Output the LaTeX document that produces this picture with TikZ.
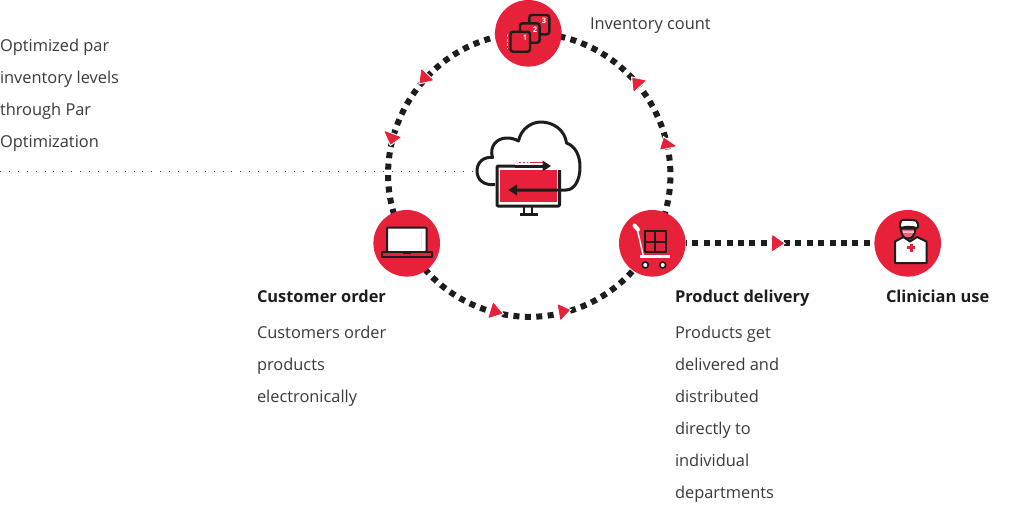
\documentclass[tikz,border=0pt]{standalone}
\usepackage{fontspec}
\setmainfont{Open Sans}
\usetikzlibrary{backgrounds}
\definecolor{brand}{HTML}{E8213A}
\definecolor{ink}{HTML}{1E1C1D}
\definecolor{txt}{HTML}{3A3A3A}
\tikzset{
  x=1pt,y=-1pt,
  hub/.style={circle,fill=brand,minimum size=66.6pt,inner sep=0pt,outer sep=0pt},
  ringline/.style={draw=ink,line width=6pt,dash pattern=on 6pt off 5.43pt},
  tri/.style={fill=brand,draw=brand,line width=0.8pt,line join=round,preaction={draw=white,line width=3pt}},
  label/.style={inner sep=0pt,outer sep=0pt,anchor=north west,align=left,text=txt,font=\fontsize{16.4}{32}\selectfont},
  title/.style={inner sep=0pt,outer sep=0pt,anchor=north west,align=left,text=ink,font=\fontsize{16.4}{32}\selectfont\bfseries},
  icon/.style={draw=ink,line width=3pt,line join=round},
  thin/.style={draw=ink,line width=2pt,line join=round}
}
\begin{document}
\begin{tikzpicture}
\useasboundingbox (0,0) rectangle (1024,517);
\node[hub] (top) at (528.3,33.3) {};
\node[hub] (left) at (406.7,243.3) {};
\node[hub] (right) at (652.3,243.3) {};
\node[hub] (clin) at (907.7,243.3) {};
\coordinate (dotstart) at (0,171.6);
\coordinate (dotend) at (472,171.6);
\begin{scope}[on background layer]
  \draw[ringline,dash phase=3pt] (left.center) to[bend left=60,looseness=1.13] (top.center);
  \draw[ringline,dash phase=3pt] (top.center) to[bend left=60,looseness=1.13] (right.center);
  \draw[ringline,dash phase=3pt] (left.center) to[bend right=61,looseness=1.17] (right.center);
  \draw[ringline,dash phase=4.7pt] (right) -- (clin);
\end{scope}
\draw[draw=ink!75,line width=0.9pt,dash pattern=on 1pt off 7.9pt] (dotstart) -- (dotend);
% triangles
\draw[tri] (421.7,70) -- (432.3,80) -- (420,82.7) -- cycle;
\draw[tri] (385,131.7) -- (400,137.3) -- (390.7,144) -- cycle;
\draw[tri] (632.7,78.3) -- (645,80.7) -- (634,90.7) -- cycle;
\draw[tri] (664,138.3) -- (675,146) -- (660.7,149) -- cycle;
\draw[tri] (493.3,303.3) -- (501.7,313.3) -- (489,317.3) -- cycle;
\draw[tri] (558.3,305) -- (569.3,310) -- (560.7,319.3) -- cycle;
\draw[tri] (772.7,235.7) -- (783.3,243.3) -- (772.3,250.7) -- cycle;
% count icon
\draw[thin,line width=2.4pt,fill=brand,rounded corners=2.5pt] (529.3,15) rectangle (549.3,34.3);
\draw[thin,line width=2.4pt,fill=brand,rounded corners=2.5pt] (520,23.3) rectangle (539.6,42.7);
\draw[thin,line width=2.4pt,fill=brand,rounded corners=2.5pt] (510.5,31.7) rectangle (530,51.7);
\node[inner sep=0pt,text=white,font=\fontsize{7.5}{7.5}\selectfont\bfseries] (n1) at (525,37.7) {1};
\node[inner sep=0pt,text=white,font=\fontsize{7.5}{7.5}\selectfont\bfseries] (n2) at (535,29.3) {2};
\node[inner sep=0pt,text=white,font=\fontsize{7.5}{7.5}\selectfont\bfseries] (n3) at (544,20.7) {3};
\draw[white!70!brand,line width=0.8pt,dash pattern=on 3pt off 1.5pt] (507.5,34) -- (507.5,49);
% cloud + monitor
\fill[brand] (499.5,170) rectangle (557,202);
\draw[icon,line cap=butt] (495,184.7) .. controls (484,185.5) and (477,180) .. (477,171)
  .. controls (477,162) and (484,156.5) .. (492.5,157.5)
  .. controls (489,146) and (497,138) .. (507,138)
  .. controls (511,138) and (515,139) .. (518.5,141)
  .. controls (521,129) and (531,122) .. (541,122)
  .. controls (553,122) and (565,130) .. (566.5,143)
  .. controls (575,146) and (580,155) .. (580,167)
  .. controls (580,181) and (574,190) .. (566,190) -- (515,190);
\fill[ink] (508.3,190) -- (517,184.5) -- (517,195.5) -- cycle;
\draw[icon,line cap=butt,rounded corners=1pt] (515,166) -- (497,166) -- (497,206) -- (559.5,206) -- (559.5,170);
\draw[icon,line cap=butt] (515,166) -- (544,166);
\fill[ink] (551,166) -- (542.5,160.5) -- (542.5,171.5) -- cycle;
\draw[brand,line width=1.4pt] (518.5,162.3) -- (520.5,162.3) (522.5,162.3) -- (525,162.3) (527,162.3) -- (528.3,162.3) (530,162.3) -- (543,162.3);
\draw[thin,line width=2.4pt] (524,207) -- (524,214.5) (532,207) -- (532,214.5);
\draw[icon] (519.5,214.5) -- (537.5,214.5);
% laptop
\draw[thin,fill=white,rounded corners=1pt] (387,227.5) rectangle (426.5,252);
\fill[brand!15] (421,231) rectangle (422,249);
\draw[thin,fill=brand] (382,252) rectangle (431.5,256.5);
\draw[ink,line width=1pt] (403,253.3) -- (411,253.3);
% cart
\draw[white,line width=4pt,line cap=round] (634.5,225.5) -- (638,229.5);
\draw[white,line width=1.5pt] (637,228) -- (643.5,256.5);
\draw[white,line width=2.2pt] (640,256.5) -- (670,256.5);
\draw[thin,fill=brand] (644.5,231) rectangle (655,241.5);
\draw[thin,fill=brand] (655,231) rectangle (665.7,241.5);
\draw[thin,fill=brand] (644.5,241.5) rectangle (655,252.3);
\draw[thin,fill=brand] (655,241.5) rectangle (665.7,252.3);
\draw[ink,line width=1.6pt,fill=white] (645.3,265) circle (3);
\draw[ink,line width=1.6pt,fill=white] (662.7,265) circle (3);
% clinician
\draw[thin,fill=white] (895,263) -- (895,241.5) -- (903.5,237) -- (910,241.5) -- (917,237) -- (926.5,241.5) -- (926.5,263) -- cycle;
\draw[thin,fill=brand!70!white] (900.7,228.5) .. controls (901.5,236) and (904,238.5) .. (908,238.5) .. controls (912,238.5) and (914.5,236) .. (915.5,228.5) -- cycle;
\fill[white!70!brand] (902.5,231) -- (913.5,231) -- (913.5,233) -- (902.5,233) -- cycle;
\draw[thin,fill=white,rounded corners=2pt] (900,228.5) -- (900,222) .. controls (902,219.5) and (914,219.5) .. (918,222) -- (918,228.5) .. controls (912,226.5) and (905,226.5) .. (900,228.5) -- cycle;
\fill[brand] (909.5,243.5) rectangle (912.5,251.5);
\fill[brand] (907,246) rectangle (915,249);
% text
\node[label] (tpar) at (0,39) {Optimized par\\inventory levels\\through Par\\Optimization};
\node[label] (tinv) at (590,18) {Inventory count};
\node[title] (tcust) at (257,290) {Customer order};
\node[label] (tcustd) at (257,326) {Customers order\\products\\electronically};
\node[title] (tprod) at (675,290) {Product delivery};
\node[label] (tprodd) at (675,326) {Products get\\delivered and\\distributed\\directly to\\individual\\departments};
\node[title] (tclin) at (886,290) {Clinician use};
\end{tikzpicture}
\end{document}
